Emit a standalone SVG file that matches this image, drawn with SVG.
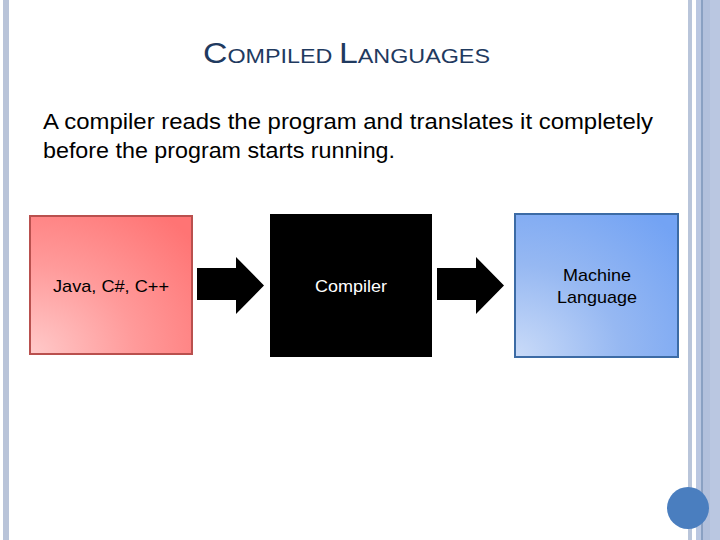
<svg xmlns="http://www.w3.org/2000/svg" width="720" height="540" viewBox="0 0 720 540">
<style>
.t{font-family:"Liberation Sans",Arial,sans-serif}
.title{fill:#1F3A5F}
.body{font-size:22px;fill:#000}
.lbl{font-size:17px;text-anchor:middle}
.arrow{fill:#000}
</style>
<defs>
<radialGradient id="gRed" cx="0" cy="1" r="1.3" gradientUnits="objectBoundingBox">
<stop offset="0" stop-color="#FFCACA"/>
<stop offset="0.5" stop-color="#FF9A9A"/>
<stop offset="1" stop-color="#FF7474"/>
</radialGradient>
<radialGradient id="gBlue" cx="0" cy="1" r="1.3" gradientUnits="objectBoundingBox">
<stop offset="0" stop-color="#CADBF8"/>
<stop offset="0.5" stop-color="#96B8F2"/>
<stop offset="1" stop-color="#73A3F4"/>
</radialGradient>
</defs>
<rect width="720" height="540" fill="#fff"/>
<g id="frame">
<rect x="3" y="0" width="6" height="540" fill="#B9C4D9"/>
<rect x="688" y="0" width="4" height="540" fill="#B9C5DA"/>
<rect x="696" y="0" width="24" height="540" fill="#BAC7E1"/>
<rect x="703" y="0" width="7" height="540" fill="#B2C0DC"/>
<line x1="702" y1="0" x2="702" y2="540" stroke="#5A7AA4" stroke-width="1"/>
<circle cx="688" cy="508" r="21" fill="#4A7EBF"/>
</g>
<g id="title">
<text class="t title" x="203" y="63" font-size="29" textLength="287" lengthAdjust="spacingAndGlyphs">C<tspan font-size="20">OMPILED </tspan>L<tspan font-size="20">ANGUAGES</tspan></text>
</g>
<g id="description">
<text class="t body" x="43" y="129" textLength="610" lengthAdjust="spacingAndGlyphs">A compiler reads the program and translates it completely</text>
<text class="t body" x="43" y="158" textLength="352" lengthAdjust="spacingAndGlyphs">before the program starts running.</text>
</g>
<g id="connectors">
<polygon class="arrow" points="197,268 236,268 236,257 264,285.5 236,314 236,300 197,300"/>
<polygon class="arrow" points="437,268 476,268 476,257 504,285.5 476,314 476,300 437,300"/>
</g>
<g id="source">
<rect x="30" y="216" width="162" height="138" fill="url(#gRed)" stroke="#B9504E" stroke-width="2"/>
<text class="t lbl" x="111" y="292" fill="#000" textLength="116" lengthAdjust="spacingAndGlyphs">Java, C#, C++</text>
</g>
<g id="compiler">
<rect x="270" y="214" width="162" height="143" fill="#000"/>
<text class="t lbl" x="351" y="292" fill="#fff" textLength="72" lengthAdjust="spacingAndGlyphs">Compiler</text>
</g>
<g id="machine">
<rect x="515" y="214" width="163" height="143" fill="url(#gBlue)" stroke="#3C6BA5" stroke-width="2"/>
<text class="t lbl" x="597" y="281" fill="#000" textLength="68" lengthAdjust="spacingAndGlyphs">Machine</text>
<text class="t lbl" x="597" y="303" fill="#000" textLength="80" lengthAdjust="spacingAndGlyphs">Language</text>
</g>
</svg>
